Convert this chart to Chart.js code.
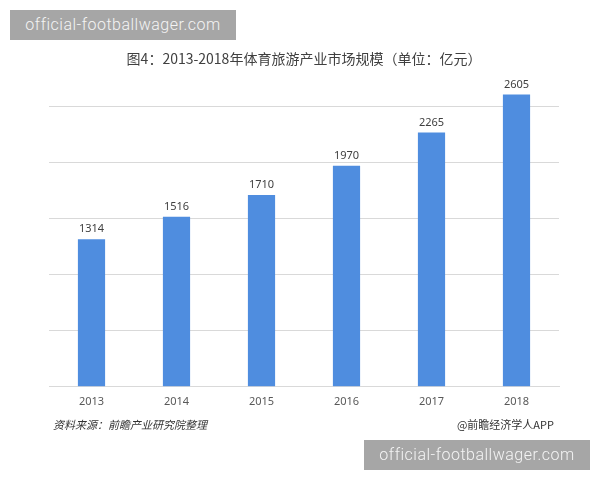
<!DOCTYPE html>
<html lang="zh">
<head>
<meta charset="UTF-8">
<title>体育旅游产业市场规模</title>
<script src="https://cdn.jsdelivr.net/npm/chart.js"></script>
<style>
    body { margin: 0; background: #fff; }
    #wrap { position: relative; width: 600px; height: 480px; overflow: hidden; }
    canvas { position: absolute; left: 0; top: 0; }
    .mark {
        position: absolute;
        background: #a6a6a6;
        color: #f4f4f4;
        font-family: Roboto, "DejaVu Sans", sans-serif;
        font-weight: 300;
        font-size: 16px;
        letter-spacing: 0.5px;
        line-height: 30px;
        text-align: center;
        width: 226px;
        height: 30px;
    }
    .foot {
        position: absolute;
        top: 416px;
        font-family: "Noto Sans CJK SC", sans-serif;
        font-size: 11px;
        color: #333;
    }
</style>
</head>
<body>
<div id="wrap">
    <canvas id="chart" width="600" height="480"></canvas>
    <div class="mark" style="left:10px;top:10px;">official-footballwager.com</div>
    <div class="foot" style="left:53px;font-style:italic;">资料来源：前瞻产业研究院整理</div>
    <div class="foot" style="right:46px;">@前瞻经济学人APP</div>
    <div class="mark" style="left:364px;top:440px;">official-footballwager.com</div>
</div>
<script>
    const years = ['2013', '2014', '2015', '2016', '2017', '2018'];
    const marketSize = [1314, 1516, 1710, 1970, 2265, 2605];
    const gridValues = [0, 500, 1000, 1500, 2000, 2500];

    // value labels above each bar
    const barLabels = {
        id: 'barLabels',
        afterDatasetsDraw(chart) {
            const ctx = chart.ctx;
            ctx.save();
            ctx.font = '11px "Noto Sans", sans-serif';
            ctx.fillStyle = '#404040';
            ctx.textAlign = 'center';
            ctx.textBaseline = 'middle';
            chart.getDatasetMeta(0).data.forEach((bar, i) => {
                ctx.fillText(marketSize[i], bar.x, bar.y - 10);
            });
            ctx.restore();
        }
    };

    new Chart(document.getElementById('chart'), {
        type: 'bar',
        data: {
            labels: years,
            datasets: [{
                data: marketSize,
                backgroundColor: '#4f8ddf',
                barPercentage: 0.32,
                categoryPercentage: 1
            }]
        },
        options: {
            responsive: false,
            animation: false,
            layout: { padding: { left: 49, right: 41, top: 50, bottom: 64 } },
            plugins: {
                legend: { display: false },
                tooltip: { enabled: false },
                title: {
                    display: true,
                    text: '图4：2013-2018年体育旅游产业市场规模（单位：亿元）',
                    font: { family: '"Noto Sans CJK SC", sans-serif', size: 14, weight: 'normal' },
                    color: '#404040',
                    padding: { top: 0, bottom: 17 }
                }
            },
            scales: {
                x: {
                    grid: { display: false, drawTicks: false },
                    border: { display: true, color: '#d9d9d9' },
                    ticks: {
                        padding: 8,
                        color: '#595959',
                        font: { family: '"Noto Sans", sans-serif', size: 11 }
                    }
                },
                y: {
                    min: 0,
                    max: 2700,
                    // gridlines only every 500, the 2605 bar runs past the top one
                    afterBuildTicks: axis => {
                        axis.ticks = gridValues.map(v => ({ value: v }));
                    },
                    ticks: { display: false },
                    border: { display: false },
                    grid: { drawTicks: false, color: '#d9d9d9' }
                }
            }
        },
        plugins: [barLabels]
    });
</script>
</body>
</html>
